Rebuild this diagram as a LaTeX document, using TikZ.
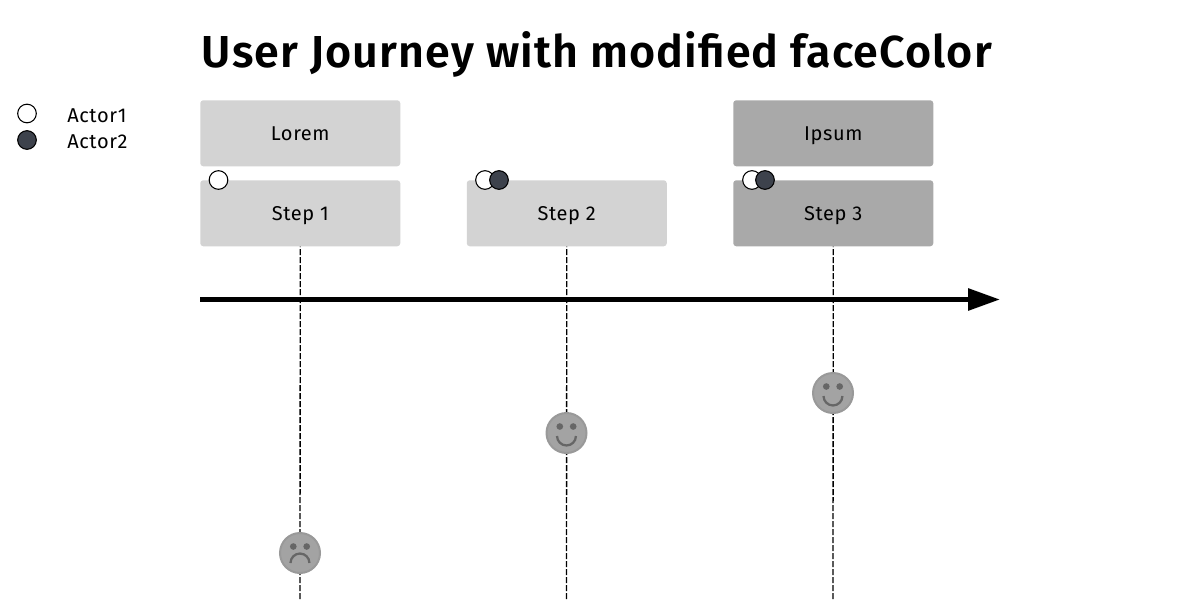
\documentclass[tikz,border=0pt]{standalone}
\usepackage{fontspec}
\setmainfont{Fira Sans}
\newfontfamily\labelfont[LetterSpace=3]{Fira Sans}
\newfontfamily\titlefont[LetterSpace=2.5]{Fira Sans SemiBold}
\usetikzlibrary{arrows.meta}
\definecolor{lightbox}{HTML}{D3D3D3}
\definecolor{darkbox}{HTML}{A9A9A9}
\definecolor{actortwo}{HTML}{3D424C}
\definecolor{facefill}{HTML}{A3A3A3}
\definecolor{faceline}{HTML}{999999}
\definecolor{faceink}{HTML}{666666}
\tikzset{x=0.75pt,y=-0.75pt,
 box/.style={rounded corners=2.25pt,minimum width=150pt,minimum height=49.5pt,inner sep=0pt,font=\labelfont\fontsize{15}{17}\selectfont,text=black,anchor=north west,text height=11.5pt,text depth=0pt},
 lbox/.style={box,fill=lightbox},
 dbox/.style={box,fill=darkbox},
 actorone/.style={circle,draw=black,fill=white,line width=0.8pt,minimum size=14pt,inner sep=0pt},
 actordark/.style={circle,draw=black,fill=actortwo,line width=0.8pt,minimum size=14pt,inner sep=0pt},
 face/.style={circle,draw=faceline,fill=facefill,line width=1.5pt,minimum size=30pt,inner sep=0pt},
 leg/.style={anchor=west,inner sep=0pt,font=\labelfont\fontsize{15}{17}\selectfont,text height=11.5pt,text depth=0pt},
 stem/.style={draw=black,line width=1pt,dash pattern=on 4.5pt off 1.5pt,dash phase=4.1pt},
 smile/.style={draw=faceink,line width=1.7pt},
}
\newcommand{\eyes}[2]{\fill[faceink] (#1-6.7,#2-6.5) circle[radius=2.5pt] (#1+6.7,#2-6.5) circle[radius=2.5pt];}
\begin{document}
\begin{tikzpicture}
\useasboundingbox (0,0) rectangle (1200,600);
\node[anchor=base,inner sep=0pt,font=\titlefont\fontsize{33.6}{36}\selectfont] (title) at (597,67) {User Journey with modified faceColor};
\coordinate (b1) at (300,600);\coordinate (b2) at (566.5,600);\coordinate (b3) at (833,600);
\node[lbox] (lorem) at (200,100) {Lorem};
\node[dbox] (ipsum) at (733,100) {Ipsum};
\node[lbox] (s1) at (200,180) {Step 1};
\node[lbox] (s2) at (466.5,180) {Step 2};
\node[dbox] (s3) at (733,180) {Step 3};
\draw[stem] (s1.south) -- (b1);
\draw[stem] (s2.south) -- (b2);
\draw[stem] (s3.south) -- (b3);
\node[face] (f1) at (300,553) {};
\node[face] (f2) at (566.5,433) {};
\node[face] (f3) at (833,393) {};
\coordinate (axs) at (200,299.5);\coordinate (axe) at (1000,299.5);
\draw[line width=3.75pt,-{Triangle[length=24pt,width=16pt]}] (axs) -- (axe);
\node[actorone] (a1) at (218.5,180) {};
\node[actorone] (a2) at (485,180) {};
\node[actordark] (a3) at (499,180) {};
\node[actorone] (a4) at (752,180) {};
\node[actordark] (a5) at (765,180) {};
\node[actorone] (l1) at (27,113.5) {};
\node[actordark] (l2) at (27,140) {};
\node[leg] (t1) at (67,115) {Actor1};
\node[leg] (t2) at (67,141) {Actor2};
\eyes{566.5}{433}\eyes{833}{393}\eyes{300}{553}
\draw[smile] (557,436) arc[start angle=180,end angle=360,radius=7.1pt];
\draw[smile] (823.5,396) arc[start angle=180,end angle=360,radius=7.1pt];
\draw[smile] (290.5,563) arc[start angle=180,end angle=0,radius=7.1pt];
\end{tikzpicture}
\end{document}
